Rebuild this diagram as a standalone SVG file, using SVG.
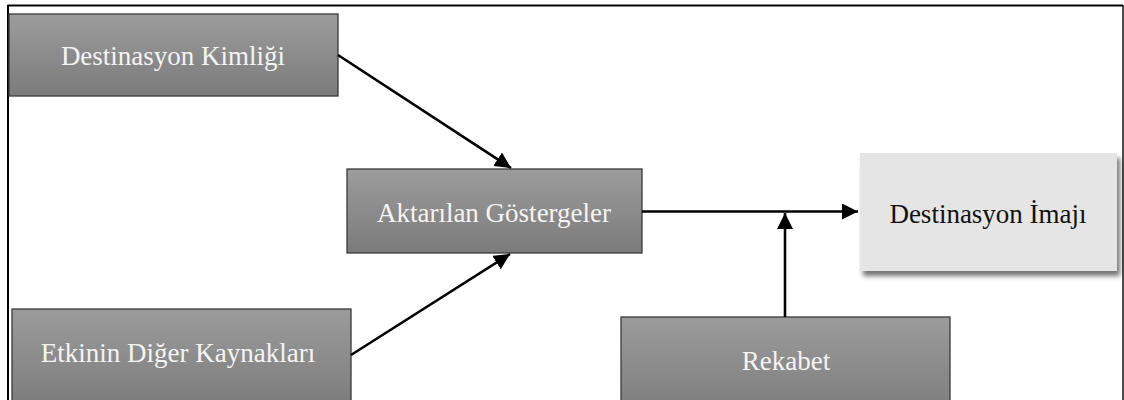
<svg xmlns="http://www.w3.org/2000/svg" width="1124" height="400" viewBox="0 0 1124 400">
  <defs>
    <linearGradient id="boxFill" x1="0" y1="0" x2="0" y2="1">
      <stop offset="0" stop-color="#9c9c9c"/>
      <stop offset="1" stop-color="#7b7b7b"/>
    </linearGradient>
    <filter id="shadow" x="-10%" y="-10%" width="125%" height="135%">
      <feGaussianBlur in="SourceAlpha" stdDeviation="2.5"/>
      <feOffset dx="3" dy="5" result="b"/>
      <feComponentTransfer><feFuncA type="linear" slope="0.55"/></feComponentTransfer>
      <feMerge><feMergeNode/><feMergeNode in="SourceGraphic"/></feMerge>
    </filter>
    <marker id="arrow" viewBox="0 0 16 16" refX="16" refY="8" markerWidth="16" markerHeight="16" markerUnits="userSpaceOnUse" orient="auto">
      <path d="M0,0 L16,8 L0,16 Z" fill="#000"/>
    </marker>
    <style>
      .dark { fill: url(#boxFill); stroke: #3a3a3a; stroke-width: 1.3; }
      .light { fill: #e5e5e5; }
      .label { font-family: "Liberation Serif", "Times New Roman", serif; font-size: 27px; text-anchor: middle; dominant-baseline: central; }
      .white { fill: #f4f4f4; }
      .black { fill: #111; }
      .conn { stroke: #000; stroke-width: 2.6; fill: none; marker-end: url(#arrow); }
      .frame { stroke: #000; fill: none; }
    </style>
  </defs>

  <!-- outer frame -->
  <g id="frame">
    <line class="frame" x1="7.5" y1="5.5" x2="1123" y2="5.5" stroke-width="2"/>
    <line class="frame" x1="8" y1="5" x2="8" y2="400" stroke-width="2"/>
    <line class="frame" x1="1123" y1="5" x2="1123" y2="400" stroke-width="1.4" stroke="#333"/>
  </g>

  <g id="node-kimlik">
    <rect class="dark" x="9" y="14" width="329" height="82"/>
    <text class="label white" x="173" y="56">Destinasyon Kimliği</text>
  </g>

  <g id="node-gostergeler">
    <rect class="dark" x="347" y="169" width="295" height="84"/>
    <text class="label white" x="494" y="213">Aktarılan Göstergeler</text>
  </g>

  <g id="node-imaj">
    <rect class="light" x="860" y="153" width="257" height="118" filter="url(#shadow)"/>
    <text class="label black" x="988" y="214">Destinasyon İmajı</text>
  </g>

  <g id="node-kaynaklar">
    <rect class="dark" x="12" y="309" width="339" height="100"/>
    <text class="label white" x="178" y="353">Etkinin Diğer Kaynakları</text>
  </g>

  <g id="node-rekabet">
    <rect class="dark" x="621" y="317" width="329" height="100"/>
    <text class="label white" x="786" y="361">Rekabet</text>
  </g>

  <g id="connectors">
    <line class="conn" x1="338" y1="55" x2="511" y2="168"/>
    <line class="conn" x1="351" y1="355" x2="510" y2="254"/>
    <line class="conn" x1="642" y1="211.5" x2="858" y2="211.5"/>
    <line class="conn" x1="785" y1="317" x2="785" y2="213"/>
  </g>
</svg>
